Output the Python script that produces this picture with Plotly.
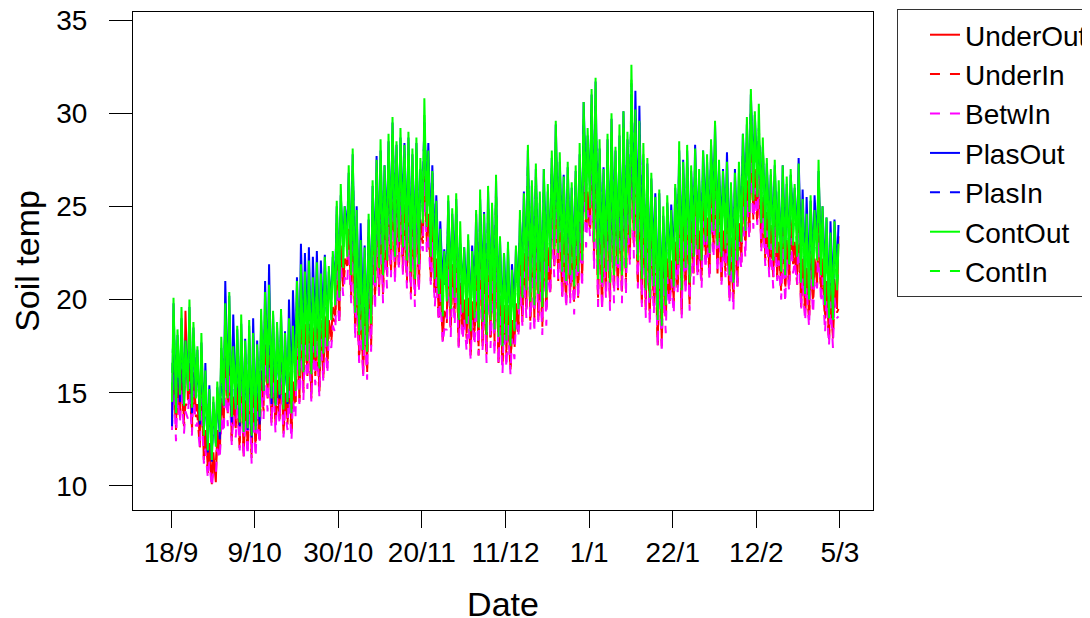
import pandas as pd
import plotly.graph_objects as go

# ---------------- data ----------------
start_date = "2009-09-18"
n_days = 168
tick_dates = ["2009-09-18", "2009-10-09", "2009-10-30", "2009-11-20", "2009-12-11",
              "2010-01-01", "2010-01-22", "2010-02-12", "2010-03-05"]
tick_labels = ["18/9", "9/10", "30/10", "20/11", "11/12", "1/1", "22/1", "12/2", "5/3"]
y_ticks = [10, 15, 20, 25, 30, 35]
series_names = ["UnderOut", "UnderIn", "BetwIn", "PlasOut", "PlasIn", "ContOut", "ContIn"]

# daily minimum (early morning) and daily maximum (afternoon) soil temperature
under_out_min = [13.6, 13.3, 13.7, 13.5, 14.6, 13.1, 14.0, 12.5, 11.4, 11.0,
                 10.1, 10.2, 11.7, 13.5, 14.2, 12.6, 13.4, 12.4, 11.6, 12.2,
                 11.8, 12.4, 12.5, 14.3, 15.0, 13.6, 13.6, 13.9, 12.8, 13.6,
                 13.0, 14.5, 14.7, 15.3, 16.2, 14.9, 16.2, 15.3, 15.8, 16.6,
                 18.0, 19.1, 18.9, 20.9, 21.8, 20.2, 18.6, 17.1, 16.0, 16.3,
                 17.8, 20.3, 20.5, 20.5, 21.6, 21.6, 21.6, 22.1, 21.5, 21.2,
                 20.6, 20.5, 20.7, 23.3, 23.4, 21.2, 20.4, 19.3, 17.8, 19.0,
                 18.6, 19.5, 17.7, 18.5, 18.2, 17.2, 18.3, 17.5, 17.5, 17.2,
                 18.0, 17.8, 16.8, 16.7, 17.3, 16.4, 17.6, 18.5, 18.8, 19.6,
                 19.0, 19.1, 19.1, 18.8, 19.6, 20.6, 22.0, 21.5, 20.2, 20.1,
                 20.4, 20.1, 20.3, 21.3, 23.8, 23.8, 22.4, 20.1, 19.6, 20.6,
                 20.0, 20.7, 20.7, 20.5, 21.2, 22.2, 23.0, 21.1, 19.8, 19.6,
                 19.2, 20.1, 17.7, 17.8, 19.2, 20.0, 20.0, 20.9, 19.2, 20.8,
                 20.0, 21.7, 21.5, 21.3, 22.6, 21.4, 23.0, 21.9, 21.0, 21.8,
                 20.4, 20.3, 20.9, 22.3, 23.2, 23.6, 24.6, 24.5, 22.8, 22.4,
                 21.8, 21.5, 21.3, 20.7, 20.8, 20.8, 22.2, 21.3, 19.6, 19.4,
                 19.1, 20.1, 20.9, 20.5, 19.2, 17.9, 18.2, 19.5]
under_out_max = [17.1, 15.8, 16.3, 19.4, 16.6, 16.1, 14.4, 15.7, 13.0, 12.3,
                 11.8, 13.0, 14.7, 17.0, 17.0, 14.8, 15.5, 16.7, 14.6, 16.0,
                 15.2, 15.0, 16.2, 17.6, 17.4, 16.7, 15.7, 17.0, 15.0, 16.1,
                 15.6, 18.4, 18.6, 18.7, 18.7, 18.5, 18.9, 18.9, 19.1, 18.9,
                 19.6, 22.7, 22.9, 22.2, 23.8, 25.4, 21.7, 20.7, 19.6, 21.7,
                 23.4, 24.9, 25.3, 24.4, 25.5, 27.1, 25.4, 26.7, 25.1, 26.1,
                 25.1, 26.1, 24.3, 28.0, 24.6, 24.2, 22.2, 21.3, 19.4, 22.7,
                 21.9, 23.1, 20.9, 20.0, 20.1, 19.9, 21.7, 23.4, 21.4, 23.2,
                 22.2, 24.1, 20.1, 19.7, 19.7, 18.9, 19.8, 22.3, 22.5, 25.4,
                 23.4, 24.7, 22.5, 24.2, 22.8, 25.3, 26.5, 25.4, 23.4, 24.5,
                 23.3, 24.6, 25.1, 27.8, 25.8, 28.6, 28.8, 26.1, 23.8, 26.0,
                 27.0, 25.6, 26.1, 27.3, 25.6, 29.9, 27.1, 27.1, 25.2, 24.7,
                 23.8, 22.9, 22.6, 22.2, 22.2, 22.1, 23.1, 26.0, 24.2, 25.4,
                 24.2, 25.5, 23.7, 25.2, 24.4, 25.9, 26.5, 25.0, 23.7, 24.5,
                 23.3, 24.2, 24.1, 26.1, 26.4, 28.6, 27.0, 28.0, 25.5, 24.7,
                 24.0, 24.9, 23.1, 24.4, 23.2, 24.3, 23.1, 24.8, 22.2, 21.7,
                 22.6, 22.2, 24.2, 22.2, 21.0, 20.9, 21.1, 23.4]

under_in_min = [13.3, 13.0, 13.5, 13.2, 14.3, 12.9, 13.7, 12.0, 11.6, 10.7,
                10.2, 11.2, 11.5, 13.2, 13.9, 12.4, 13.1, 11.9, 11.8, 11.9,
                11.5, 12.1, 12.3, 14.0, 14.7, 13.4, 13.3, 13.4, 13.0, 13.3,
                12.7, 14.2, 14.5, 15.0, 15.9, 14.7, 15.9, 14.8, 16.0, 16.3,
                17.7, 18.8, 18.7, 20.6, 21.5, 20.0, 18.3, 16.6, 16.2, 16.0,
                17.5, 20.0, 20.3, 20.2, 21.3, 21.4, 21.3, 21.6, 21.7, 20.9,
                20.3, 20.2, 20.5, 23.0, 23.1, 21.0, 20.1, 18.8, 18.0, 18.7,
                18.3, 19.2, 17.5, 18.2, 17.9, 17.0, 18.0, 17.0, 17.7, 16.9,
                17.7, 17.5, 16.6, 16.4, 17.0, 16.2, 17.3, 18.0, 19.0, 19.3,
                18.7, 18.8, 18.9, 18.5, 19.3, 20.4, 21.7, 21.0, 20.4, 19.8,
                20.1, 19.8, 20.1, 21.0, 23.5, 23.6, 22.1, 19.6, 19.8, 20.3,
                19.7, 20.4, 20.5, 20.2, 20.9, 22.0, 22.7, 20.6, 20.0, 19.3,
                18.9, 19.8, 17.5, 17.5, 18.9, 19.8, 19.7, 20.4, 19.4, 20.5,
                19.7, 21.4, 21.3, 21.0, 22.3, 21.2, 22.7, 21.4, 21.2, 21.5,
                20.1, 20.0, 20.7, 22.0, 22.9, 23.4, 24.3, 24.0, 23.0, 22.1,
                21.5, 21.2, 21.1, 20.4, 20.5, 20.6, 21.9, 20.8, 19.8, 19.1,
                18.8, 19.8, 20.7, 20.2, 18.9, 17.7, 17.9, 19.3]
under_in_max = [16.5, 15.2, 15.7, 14.4, 16.0, 15.5, 13.8, 15.1, 12.4, 11.7,
                11.2, 12.4, 14.1, 16.4, 16.4, 14.2, 14.9, 16.1, 14.0, 15.4,
                14.6, 14.4, 15.6, 17.0, 16.8, 16.1, 15.1, 16.4, 14.4, 15.5,
                15.0, 17.8, 18.0, 18.1, 18.1, 17.9, 18.3, 18.3, 18.5, 18.3,
                19.0, 22.1, 22.3, 21.6, 23.2, 24.8, 21.1, 20.1, 19.0, 21.1,
                22.8, 24.3, 24.7, 23.8, 24.9, 26.5, 24.8, 26.1, 24.5, 25.5,
                24.5, 25.5, 23.7, 27.4, 24.0, 23.6, 21.6, 20.7, 18.8, 22.1,
                21.3, 22.5, 20.3, 19.4, 19.5, 19.3, 21.1, 22.8, 20.8, 22.6,
                21.6, 23.5, 19.5, 19.1, 19.1, 18.3, 19.2, 21.7, 21.9, 24.8,
                22.8, 24.1, 21.9, 23.6, 22.2, 24.7, 25.9, 24.8, 22.8, 23.9,
                22.7, 24.0, 24.5, 27.2, 25.2, 28.0, 28.2, 25.5, 23.2, 25.4,
                26.4, 25.0, 25.5, 26.7, 25.0, 29.3, 26.5, 26.5, 24.6, 24.1,
                23.2, 22.3, 22.0, 21.6, 21.6, 21.5, 22.5, 25.4, 23.6, 24.8,
                23.6, 24.9, 23.1, 24.6, 23.8, 25.3, 25.9, 24.4, 23.1, 23.9,
                22.7, 23.6, 23.5, 25.5, 25.8, 28.0, 26.4, 27.4, 24.9, 24.1,
                23.4, 24.3, 22.5, 23.8, 22.6, 23.7, 22.5, 24.2, 21.6, 21.1,
                22.0, 21.6, 23.6, 21.6, 20.4, 20.3, 20.5, 19.5]

betw_in_min = [13.0, 12.4, 13.4, 12.8, 13.6, 12.7, 13.2, 12.0, 11.2, 10.4,
               9.9, 10.6, 11.4, 12.8, 13.2, 12.2, 12.6, 11.9, 11.4, 11.6,
               11.2, 11.5, 12.2, 13.6, 14.0, 13.2, 12.8, 13.4, 12.6, 13.0,
               12.4, 13.6, 14.4, 14.6, 15.2, 14.5, 15.4, 14.8, 15.6, 16.0,
               17.4, 18.2, 18.6, 20.2, 20.8, 19.8, 17.8, 16.6, 15.8, 15.7,
               17.2, 19.4, 20.2, 19.8, 20.6, 21.2, 20.8, 21.6, 21.3, 20.6,
               20.0, 19.6, 20.4, 22.6, 22.4, 20.8, 19.6, 18.8, 17.6, 18.4,
               18.0, 18.6, 17.4, 17.8, 17.2, 16.8, 17.5, 17.0, 17.3, 16.6,
               17.4, 16.9, 16.5, 16.0, 16.3, 16.0, 16.8, 18.0, 18.6, 19.0,
               18.4, 18.2, 18.8, 18.1, 18.6, 20.2, 21.2, 21.0, 20.0, 19.5,
               19.8, 19.2, 20.0, 20.6, 22.8, 23.4, 21.6, 19.6, 19.4, 20.0,
               19.4, 19.8, 20.4, 19.8, 20.2, 21.8, 22.2, 20.6, 19.6, 19.0,
               18.6, 19.2, 17.4, 17.1, 18.2, 19.6, 19.2, 20.4, 19.0, 20.2,
               19.4, 20.8, 21.2, 20.6, 21.6, 21.0, 22.2, 21.4, 20.8, 21.2,
               19.8, 19.4, 20.6, 21.6, 22.2, 23.2, 23.8, 24.0, 22.6, 21.8,
               21.2, 20.6, 21.0, 20.0, 19.8, 20.4, 21.4, 20.8, 19.4, 18.8,
               18.5, 19.2, 20.6, 19.8, 18.2, 17.5, 17.4, 19.0]
betw_in_max = [16.1, 14.8, 15.3, 14.0, 15.6, 15.1, 13.4, 14.7, 12.0, 11.3,
               10.8, 12.0, 13.7, 16.0, 16.0, 13.8, 14.5, 15.7, 13.6, 15.0,
               14.2, 14.0, 15.2, 16.6, 16.4, 15.7, 14.7, 16.0, 14.0, 15.1,
               14.6, 17.4, 17.6, 17.7, 17.7, 17.5, 17.9, 17.9, 18.1, 17.9,
               18.6, 21.7, 21.9, 21.2, 22.8, 24.4, 20.7, 19.7, 18.6, 20.7,
               22.4, 23.9, 24.3, 23.4, 24.5, 26.1, 24.4, 25.7, 24.1, 25.1,
               24.1, 25.1, 23.3, 27.0, 23.6, 23.2, 21.2, 20.3, 18.4, 21.7,
               20.9, 22.1, 19.9, 19.0, 19.1, 18.9, 20.7, 22.4, 20.4, 22.2,
               21.2, 23.1, 19.1, 18.7, 18.7, 17.9, 18.8, 21.3, 21.5, 24.4,
               22.4, 23.7, 21.5, 23.2, 21.8, 24.3, 25.5, 24.4, 22.4, 23.5,
               22.3, 23.6, 24.1, 26.8, 24.8, 27.6, 27.8, 25.1, 22.8, 25.0,
               26.0, 24.6, 25.1, 26.3, 24.6, 28.9, 26.1, 26.1, 24.2, 23.7,
               22.8, 21.9, 21.6, 21.2, 21.2, 21.1, 22.1, 25.0, 23.2, 24.4,
               23.2, 24.5, 22.7, 24.2, 23.4, 24.9, 25.5, 24.0, 22.7, 23.5,
               22.3, 23.2, 23.1, 25.1, 25.4, 27.6, 26.0, 27.0, 24.5, 23.7,
               23.0, 23.9, 22.1, 23.4, 22.2, 23.3, 22.1, 23.8, 21.2, 20.7,
               21.6, 21.2, 23.2, 21.2, 20.0, 19.9, 20.1, 19.1]

plas_out_min = [13.2, 14.1, 14.5, 14.3, 15.4, 13.9, 14.8, 13.3, 13.1, 11.8,
                11.3, 12.3, 12.5, 14.3, 15.0, 13.4, 14.2, 13.2, 13.3, 13.0,
                12.6, 13.2, 13.3, 15.1, 15.8, 14.4, 14.4, 14.7, 14.5, 14.4,
                15.0, 16.5, 16.7, 17.3, 18.2, 16.9, 18.2, 17.3, 18.7, 18.6,
                20.0, 21.1, 20.9, 22.9, 23.8, 22.2, 20.6, 19.1, 18.9, 18.3,
                19.8, 22.3, 22.5, 22.5, 23.6, 23.6, 23.6, 24.1, 24.4, 23.2,
                22.6, 22.5, 22.7, 25.3, 25.4, 23.2, 22.4, 21.3, 20.7, 21.0,
                20.6, 21.5, 19.7, 20.5, 20.2, 19.2, 20.3, 19.5, 20.4, 19.2,
                20.0, 19.8, 18.8, 18.7, 19.3, 18.4, 19.6, 20.5, 21.7, 21.6,
                21.0, 21.1, 21.1, 20.8, 21.6, 22.6, 24.0, 23.5, 23.1, 22.1,
                22.4, 22.1, 22.3, 23.3, 25.8, 25.8, 24.4, 22.1, 22.5, 22.6,
                22.0, 22.7, 22.7, 22.5, 23.2, 24.2, 25.0, 23.1, 22.7, 21.6,
                21.2, 22.1, 19.7, 19.8, 21.2, 22.0, 22.0, 22.9, 22.1, 22.8,
                22.0, 23.7, 23.5, 23.3, 24.6, 23.4, 25.0, 23.9, 23.9, 23.8,
                22.4, 22.3, 22.9, 24.3, 25.2, 25.6, 26.6, 26.5, 25.7, 24.4,
                23.8, 23.5, 23.3, 22.7, 22.8, 22.8, 24.2, 23.3, 22.5, 21.4,
                21.1, 22.1, 22.9, 22.5, 21.2, 19.9, 20.2, 21.5]
plas_out_max = [19.8, 18.1, 19.0, 17.8, 19.6, 18.5, 17.3, 17.7, 16.6, 15.4,
                14.5, 15.3, 17.4, 21.0, 20.2, 19.2, 18.4, 18.7, 17.9, 18.6,
                19.0, 17.8, 18.9, 21.0, 21.9, 19.2, 18.5, 19.2, 18.3, 20.0,
                20.5, 21.2, 23.0, 22.5, 22.8, 22.3, 22.6, 22.1, 22.4, 21.5,
                22.3, 25.0, 25.6, 25.0, 26.8, 27.8, 25.0, 24.1, 22.9, 24.3,
                26.1, 27.7, 28.0, 27.2, 28.5, 29.5, 28.3, 28.7, 28.4, 28.7,
                27.8, 28.4, 27.0, 29.5, 28.4, 27.2, 25.6, 24.2, 22.7, 25.3,
                24.6, 25.4, 23.0, 22.8, 23.2, 22.9, 24.6, 25.4, 24.7, 25.8,
                24.9, 26.4, 23.2, 22.5, 22.8, 21.9, 22.7, 24.3, 25.8, 28.0,
                26.1, 27.0, 25.2, 27.0, 25.8, 27.6, 29.4, 27.4, 26.7, 27.1,
                26.0, 26.9, 27.8, 30.6, 28.8, 31.0, 31.7, 28.1, 27.1, 28.6,
                29.7, 28.0, 28.8, 30.1, 28.6, 31.0, 31.2, 30.4, 27.5, 27.3,
                26.5, 25.7, 25.7, 24.5, 25.2, 25.1, 26.0, 28.0, 27.5, 28.0,
                26.9, 28.3, 26.4, 28.0, 27.4, 28.3, 29.4, 27.0, 27.0, 27.9,
                26.0, 27.0, 26.8, 28.9, 29.4, 31.0, 29.9, 28.8, 28.2, 27.3,
                26.7, 27.2, 25.8, 27.2, 26.2, 26.7, 26.0, 27.6, 25.9, 25.5,
                25.3, 25.6, 26.9, 25.0, 24.4, 24.2, 24.3, 24.0]

plas_in_min = [15.0, 14.7, 15.1, 14.9, 16.0, 14.5, 15.4, 13.9, 13.7, 12.4,
               11.9, 12.9, 13.1, 14.9, 15.6, 14.0, 14.8, 13.8, 13.9, 13.6,
               13.2, 13.8, 13.9, 15.7, 16.4, 15.0, 15.0, 15.3, 15.1, 15.0,
               15.4, 16.9, 17.1, 17.7, 18.6, 17.3, 18.6, 17.7, 19.1, 19.0,
               20.4, 21.5, 21.3, 23.3, 24.2, 22.6, 21.0, 19.5, 19.3, 18.7,
               20.2, 22.7, 22.9, 22.9, 24.0, 24.0, 24.0, 24.5, 24.8, 23.6,
               23.0, 22.9, 23.1, 25.7, 25.8, 23.6, 22.8, 21.7, 21.1, 21.4,
               21.0, 21.9, 20.1, 20.9, 20.6, 19.6, 20.7, 19.9, 20.8, 19.6,
               20.4, 20.2, 19.2, 19.1, 19.7, 18.8, 20.0, 20.9, 22.1, 22.0,
               21.4, 21.5, 21.5, 21.2, 22.0, 23.0, 24.4, 23.9, 23.5, 22.5,
               22.8, 22.5, 22.7, 23.7, 26.2, 26.2, 24.8, 22.5, 22.9, 23.0,
               22.4, 23.1, 23.1, 22.9, 23.6, 24.6, 25.4, 23.5, 23.1, 22.0,
               21.6, 22.5, 20.1, 20.2, 21.6, 22.4, 22.4, 23.3, 22.5, 23.2,
               22.4, 24.1, 23.9, 23.7, 25.0, 23.8, 25.4, 24.3, 24.3, 24.2,
               22.8, 22.7, 23.3, 24.7, 25.6, 26.0, 27.0, 26.9, 26.1, 24.8,
               24.2, 23.9, 23.7, 23.1, 23.2, 23.2, 24.6, 23.7, 22.9, 21.8,
               21.5, 22.5, 23.3, 22.9, 21.6, 20.3, 20.6, 21.9]
plas_in_max = [18.7, 17.3, 17.9, 16.6, 18.4, 17.8, 16.0, 16.9, 14.4, 14.0,
               13.4, 14.5, 16.3, 18.6, 18.8, 16.5, 17.1, 17.9, 16.0, 17.7,
               16.8, 16.5, 17.8, 19.2, 19.2, 18.4, 17.3, 18.2, 16.4, 17.8,
               17.2, 19.9, 20.2, 20.3, 20.5, 20.2, 20.5, 20.1, 20.5, 20.6,
               21.2, 24.2, 24.5, 23.8, 25.6, 27.1, 23.3, 21.9, 21.0, 23.4,
               25.0, 26.4, 26.9, 26.0, 27.3, 28.8, 27.0, 27.9, 26.5, 27.8,
               26.7, 27.6, 25.9, 29.6, 27.6, 26.8, 23.8, 22.5, 20.8, 24.4,
               23.5, 24.6, 22.5, 21.6, 21.9, 21.6, 23.3, 24.6, 22.8, 24.9,
               23.8, 25.6, 21.7, 21.3, 21.5, 20.6, 21.4, 23.5, 23.9, 27.1,
               25.0, 26.2, 24.1, 25.8, 24.6, 27.0, 28.1, 26.6, 24.8, 26.2,
               24.9, 26.1, 26.7, 29.4, 27.6, 30.3, 30.4, 27.3, 25.2, 27.7,
               28.6, 27.1, 27.7, 28.9, 27.4, 31.6, 29.8, 29.5, 26.6, 26.4,
               25.4, 24.4, 24.2, 23.8, 24.0, 23.8, 24.7, 27.2, 25.6, 27.1,
               25.8, 27.0, 25.3, 26.8, 26.2, 27.6, 28.1, 26.2, 25.1, 26.2,
               24.9, 25.7, 25.7, 27.7, 28.2, 30.3, 28.6, 29.2, 26.9, 26.4,
               25.6, 26.4, 24.7, 26.0, 25.0, 26.0, 24.7, 26.0, 23.6, 23.4,
               24.2, 23.7, 25.8, 23.8, 22.8, 22.6, 22.7, 21.7]

cont_out_min = [14.5, 13.9, 14.9, 14.3, 15.1, 14.2, 14.7, 13.5, 12.7, 11.9,
                11.4, 12.1, 12.9, 14.3, 14.7, 13.7, 14.1, 13.4, 12.9, 13.1,
                12.7, 13.0, 13.7, 15.1, 15.5, 14.7, 14.3, 14.9, 14.1, 14.5,
                13.9, 15.1, 15.9, 16.1, 16.7, 16.0, 16.9, 16.3, 17.1, 17.5,
                18.9, 19.7, 20.1, 21.7, 22.3, 21.3, 19.3, 18.1, 17.3, 17.2,
                18.7, 20.9, 21.7, 21.3, 22.1, 22.7, 22.3, 23.1, 22.8, 22.1,
                21.5, 21.1, 21.9, 24.1, 23.9, 22.3, 21.1, 20.3, 19.1, 19.9,
                19.5, 20.1, 18.9, 19.3, 18.7, 18.3, 19.0, 18.5, 18.8, 18.1,
                18.9, 18.4, 18.0, 17.5, 17.8, 17.5, 18.3, 19.5, 20.1, 20.5,
                19.9, 19.7, 20.3, 19.6, 20.1, 21.7, 22.7, 22.5, 21.5, 21.0,
                21.3, 20.7, 21.5, 22.1, 24.3, 24.9, 23.1, 21.1, 20.9, 21.5,
                20.9, 21.3, 21.9, 21.3, 21.7, 23.3, 23.7, 22.1, 21.1, 20.5,
                20.1, 20.7, 18.9, 18.6, 19.7, 21.1, 20.7, 21.9, 20.5, 21.7,
                20.9, 22.3, 22.7, 22.1, 23.1, 22.5, 23.7, 22.9, 22.3, 22.7,
                21.3, 20.9, 22.1, 23.1, 23.7, 24.7, 25.3, 25.5, 24.1, 23.3,
                22.7, 22.1, 22.5, 21.5, 21.3, 21.9, 22.9, 22.3, 20.9, 20.3,
                20.0, 20.7, 22.1, 21.3, 19.7, 19.0, 18.9, 20.5]
cont_out_max = [20.1, 18.4, 19.6, 17.8, 20.0, 18.8, 17.5, 18.2, 16.2, 15.2,
                14.8, 15.6, 18.0, 19.8, 20.4, 17.5, 18.6, 19.2, 17.8, 18.9,
                18.2, 17.6, 19.5, 20.4, 20.8, 19.4, 18.8, 19.5, 18.2, 19.0,
                18.6, 21.0, 21.9, 21.5, 22.1, 21.2, 22.0, 21.4, 22.3, 21.8,
                22.6, 25.3, 26.2, 25.0, 27.2, 28.1, 24.8, 23.2, 22.8, 24.6,
                26.4, 27.5, 28.6, 27.2, 28.9, 29.8, 28.5, 29.2, 28.3, 29.0,
                28.1, 28.7, 27.6, 30.8, 28.0, 26.9, 25.3, 23.8, 22.6, 25.6,
                24.9, 25.7, 24.2, 22.8, 23.5, 22.6, 24.8, 25.9, 24.6, 26.1,
                25.2, 26.7, 23.4, 22.5, 23.1, 21.6, 22.9, 24.8, 25.7, 28.3,
                26.4, 27.3, 25.8, 27.0, 26.2, 28.0, 29.6, 27.9, 26.6, 27.4,
                26.3, 27.2, 28.4, 30.6, 29.2, 31.3, 31.9, 28.6, 27.0, 28.9,
                30.0, 28.2, 29.4, 30.1, 29.0, 32.6, 30.2, 29.6, 28.4, 27.6,
                26.8, 25.5, 25.9, 25.0, 25.6, 24.8, 26.2, 28.5, 27.4, 28.3,
                27.2, 28.1, 27.0, 28.0, 27.8, 28.6, 29.6, 27.5, 26.9, 27.4,
                26.3, 26.8, 27.4, 28.9, 29.8, 31.3, 30.1, 30.5, 28.7, 27.6,
                27.0, 27.5, 26.4, 27.2, 26.6, 27.0, 26.2, 27.3, 25.4, 24.6,
                25.6, 24.8, 27.5, 25.0, 24.4, 23.6, 24.2, 23.0]

cont_in_min = [15.0, 14.7, 15.2, 14.9, 16.0, 14.6, 15.4, 13.7, 13.2, 12.9,
               11.9, 12.9, 13.2, 14.9, 15.6, 14.1, 14.8, 13.6, 13.4, 14.1,
               13.2, 13.8, 14.0, 15.7, 16.4, 15.1, 15.0, 15.1, 14.6, 15.5,
               14.4, 15.9, 16.2, 16.7, 17.6, 16.4, 17.6, 16.5, 17.6, 18.5,
               19.4, 20.5, 20.4, 22.3, 23.2, 21.7, 20.0, 18.3, 17.8, 18.2,
               19.2, 21.7, 22.0, 21.9, 23.0, 23.1, 23.0, 23.3, 23.3, 23.1,
               22.0, 21.9, 22.2, 24.7, 24.8, 22.7, 21.8, 20.5, 19.6, 20.9,
               20.0, 20.9, 19.2, 19.9, 19.6, 18.7, 19.7, 18.7, 19.3, 19.1,
               19.4, 19.2, 18.3, 18.1, 18.7, 17.9, 19.0, 19.7, 20.6, 21.5,
               20.4, 20.5, 20.6, 20.2, 21.0, 22.1, 23.4, 22.7, 22.0, 22.0,
               21.8, 21.5, 21.8, 22.7, 25.2, 25.3, 23.8, 21.3, 21.4, 22.5,
               21.4, 22.1, 22.2, 21.9, 22.6, 23.7, 24.4, 22.3, 21.6, 21.5,
               20.6, 21.5, 19.2, 19.2, 20.6, 21.5, 21.4, 22.1, 21.0, 22.7,
               21.4, 23.1, 23.0, 22.7, 24.0, 22.9, 24.4, 23.1, 22.8, 23.7,
               21.8, 21.7, 22.4, 23.7, 24.6, 25.1, 26.0, 25.7, 24.6, 24.3,
               23.2, 22.9, 22.8, 22.1, 22.2, 22.3, 23.6, 22.5, 21.4, 21.3,
               20.5, 21.5, 22.4, 21.9, 20.6, 19.4, 19.6, 20.7]
cont_in_max = [19.1, 17.7, 18.3, 16.9, 18.8, 18.0, 16.4, 16.8, 15.6, 14.2,
               13.8, 14.9, 16.7, 18.9, 19.2, 16.7, 17.5, 17.8, 17.2, 17.9,
               17.2, 16.9, 18.2, 19.5, 19.6, 18.6, 17.7, 18.1, 17.6, 18.0,
               17.6, 20.3, 20.6, 20.6, 20.9, 20.4, 20.9, 20.0, 21.7, 20.8,
               21.6, 24.6, 24.9, 24.1, 26.0, 27.3, 23.7, 21.8, 22.2, 23.6,
               25.4, 26.8, 27.3, 26.3, 27.7, 29.0, 27.4, 27.8, 27.7, 28.0,
               27.1, 28.0, 26.3, 29.9, 26.8, 26.1, 24.2, 22.4, 22.0, 24.6,
               23.9, 25.0, 22.9, 21.9, 22.3, 21.8, 23.7, 24.5, 24.0, 25.1,
               24.2, 26.0, 22.1, 21.6, 21.9, 20.8, 21.8, 23.4, 25.1, 27.3,
               25.4, 26.6, 24.5, 26.1, 25.0, 27.2, 28.5, 26.5, 26.0, 26.4,
               25.3, 26.5, 27.1, 29.7, 28.0, 30.5, 30.8, 27.2, 26.4, 27.9,
               29.0, 27.5, 28.1, 29.2, 27.8, 31.8, 29.1, 28.2, 27.8, 26.6,
               25.8, 24.8, 24.6, 24.1, 24.4, 24.0, 25.1, 27.1, 26.8, 27.3,
               26.2, 27.4, 25.7, 27.1, 26.6, 27.8, 28.5, 26.1, 26.3, 26.4,
               25.3, 26.1, 26.1, 28.0, 28.6, 30.5, 29.0, 29.1, 28.1, 26.6,
               26.0, 26.8, 25.1, 26.3, 25.4, 26.2, 25.1, 25.9, 24.8, 23.6,
               24.6, 24.1, 26.2, 24.1, 23.2, 22.8, 23.1, 21.6]

# ---------------- build the figure ----------------
days = pd.date_range(start_date, periods=n_days, freq="D")
times = []
for d in days:
    times += [d + pd.Timedelta(hours=6), d + pd.Timedelta(hours=15)]


def zigzag(mins, maxs):
    out = []
    for lo, hi in zip(mins, maxs):
        out += [lo, hi]
    return out


data = {
    "UnderOut": (under_out_min, under_out_max),
    "UnderIn": (under_in_min, under_in_max),
    "BetwIn": (betw_in_min, betw_in_max),
    "PlasOut": (plas_out_min, plas_out_max),
    "PlasIn": (plas_in_min, plas_in_max),
    "ContOut": (cont_out_min, cont_out_max),
    "ContIn": (cont_in_min, cont_in_max),
}
styles = {
    "UnderOut": ("#FF0000", "solid"),
    "UnderIn": ("#FF0000", "10px,10px"),
    "BetwIn": ("#FF00FF", "10px,10px"),
    "PlasOut": ("#0000FF", "solid"),
    "PlasIn": ("#0000FF", "10px,10px"),
    "ContOut": ("#00FF00", "solid"),
    "ContIn": ("#00FF00", "10px,10px"),
}

fig = go.Figure()
for name in series_names:
    lo, hi = data[name]
    color, dash = styles[name]
    fig.add_trace(go.Scatter(
        x=times, y=zigzag(lo, hi), mode="lines", name=name,
        line=dict(color=color, width=2, dash=dash),
    ))

# the page body adds an 8px offset, so the margins are set 8px smaller on top/left
fig.update_layout(
    width=1090, height=618,
    margin=dict(l=125, r=225, t=4, b=116, autoexpand=False),
    paper_bgcolor="white", plot_bgcolor="white",
    font=dict(family="Liberation Sans, Arial, sans-serif", size=28, color="black"),
    showlegend=True,
    legend=dict(x=1.0324, y=1.006, xanchor="left", yanchor="top",
                bordercolor="#333333", borderwidth=1, bgcolor="white",
                font=dict(size=28), indentation=27, tracegroupgap=0),
)
fig.update_xaxes(
    type="date",
    range=["2009-09-08 10:48", "2010-03-13 07:12"],
    tickmode="array", tickvals=tick_dates, ticktext=tick_labels,
    ticks="outside", ticklen=17, tickwidth=1, tickcolor="black",
    ticklabelstandoff=0, ticklabeloverflow="allow",
    showline=True, linecolor="black", linewidth=1, mirror=True,
    showgrid=False, zeroline=False,
    title=dict(text="Date", font=dict(size=34), standoff=25),
)
fig.update_yaxes(
    range=[8.71, 35.43],
    tickmode="array", tickvals=y_ticks,
    ticks="outside", ticklen=23, tickwidth=1, tickcolor="black",
    ticklabelstandoff=16, ticklabeloverflow="allow",
    showline=True, linecolor="black", linewidth=1, mirror=True,
    showgrid=False, zeroline=False,
    title=dict(text="Soil temp", font=dict(size=34), standoff=12),
)

fig.write_html("out.html")
